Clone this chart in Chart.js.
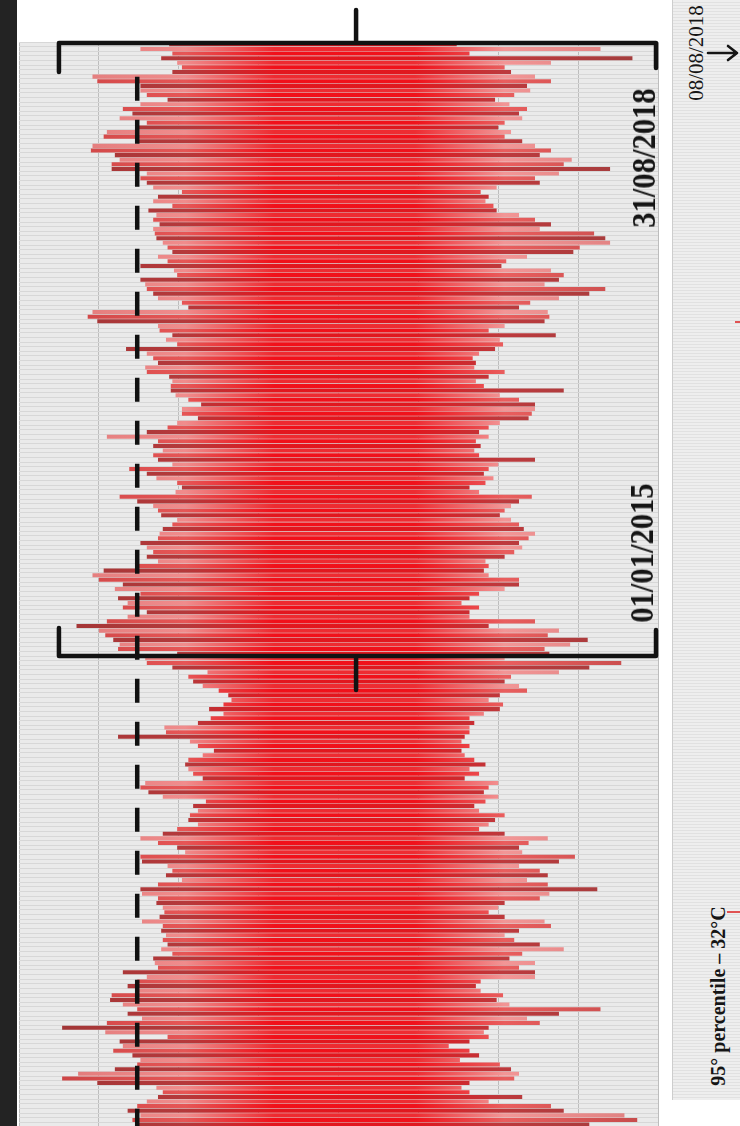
<!DOCTYPE html>
<html lang="en">
<head>
<meta charset="UTF-8">
<title>Daily temperature range 2015-2018</title>
<script src="https://cdn.jsdelivr.net/npm/chart.js"></script>
<style>
  html, body { margin: 0; padding: 0; background: #fff; overflow: hidden; }
  body { width: 740px; height: 1126px; position: relative; }
  #wrap { position: absolute; left: 0; top: 0; width: 740px; height: 1150px; }
  .strip { position: absolute; left: 0; top: 0; width: 17px; height: 1126px; background: #232323; }
  .panel {
    position: absolute; left: 672px; top: 0; width: 68px; height: 1100px;
    background: repeating-linear-gradient(to bottom, #eeeeee 0 2px, #e1e1e1 2px 3px);
    border-left: 1px solid #cdcdcd;
  }
  .rot {
    position: absolute; white-space: nowrap; line-height: 1; color: #151515;
    font-family: "Liberation Serif", "DejaVu Serif", serif;
  }
  .mark { position: absolute; background: #e05252; }
  .arrow { position: absolute; left: 706px; top: 44px; }
</style>
</head>
<body>
<div class="strip"></div>
<div id="wrap"><canvas id="chart"></canvas></div>
<div class="panel"></div>

<div class="rot" style="left:644px; top:158px; font-size:34px; font-weight:bold; transform:translate(-50%,-50%) rotate(-90deg) scaleX(0.9);">31/08/2018</div>
<div class="rot" style="left:642px; top:553px; font-size:34px; font-weight:bold; transform:translate(-50%,-50%) rotate(-90deg) scaleX(0.9);">01/01/2015</div>
<div class="rot" style="left:696px; top:53px; font-size:21px; transform:translate(-50%,-50%) rotate(-90deg);">08/08/2018</div>
<svg class="arrow" width="34" height="18" viewBox="0 0 34 18">
  <path d="M2 9 H30 M22 2 L31 9 L22 16" fill="none" stroke="#151515" stroke-width="2.6" stroke-linecap="round" stroke-linejoin="round"/>
</svg>
<div class="rot" style="left:718px; top:996px; font-size:20px; font-weight:bold; transform:translate(-50%,-50%) rotate(-90deg);">95° percentile – 32°C</div>
<div class="mark" style="left:727px; top:911px; width:13px; height:2px;"></div>
<div class="mark" style="left:735px; top:321px; width:5px; height:2px;"></div>

<script>
// rows run newest (31/08/2018, top) to oldest (bottom), daily max / min temperature in °C
const tMax = [
  30.6, 32.4, 30.4, 31.1, 30.1, 29.8, 30.4, 35.4, 35.1, 32.4,
  32.4, 32.0, 30.7, 32.4, 33.5, 32.9, 33.7, 32.0, 32.6, 34.5,
  34.7, 32.6, 35.4, 35.5, 34.0, 33.7, 34.2, 34.2, 32.0, 32.4,
  32.0, 31.6, 29.8, 31.3, 31.6, 30.4, 31.9, 31.4, 31.6, 31.2,
  31.6, 31.5, 31.4, 31.0, 30.7, 30.4, 31.3, 30.7, 32.4, 30.3,
  30.1, 32.4, 32.1, 32.0, 31.6, 31.3, 29.8, 29.4, 35.4, 35.7,
  35.1, 31.3, 31.2, 30.4, 30.8, 30.1, 33.3, 32.0, 31.6, 31.3,
  32.1, 32.0, 30.6, 30.4, 30.5, 30.5, 30.2, 29.4, 28.6, 29.8,
  29.8, 28.8, 30.1, 30.7, 32.0, 34.5, 31.3, 31.6, 31.0, 31.6,
  31.3, 30.4, 33.1, 32.0, 31.4, 30.1, 29.8, 30.2, 33.7, 32.6,
  31.6, 31.3, 31.1, 30.1, 30.4, 31.0, 31.2, 31.3, 32.4, 32.0,
  31.6, 32.0, 31.3, 32.6, 34.7, 35.4, 35.0, 33.5, 34.0, 32.4,
  33.8, 33.2, 33.5, 32.0, 33.2, 34.5, 36.4, 35.0, 34.6, 34.1,
  33.7, 33.8, 30.1, 32.1, 32.0, 30.4, 28.2, 29.4, 29.1, 28.5,
  27.5, 26.9, 26.7, 27.2, 28.1, 27.2, 28.0, 28.8, 30.9, 30.8,
  33.8, 29.3, 28.8, 27.8, 28.5, 29.4, 29.6, 29.4, 29.1, 28.5,
  32.1, 32.4, 31.9, 31.0, 28.3, 29.1, 28.8, 29.3, 29.4, 28.8,
  30.1, 31.0, 32.4, 31.3, 30.1, 29.6, 32.4, 32.3, 30.7, 30.4,
  30.8, 29.8, 31.3, 32.4, 32.3, 31.3, 31.4, 31.0, 30.9, 31.2,
  32.3, 31.0, 31.1, 30.8, 31.0, 30.7, 31.1, 30.4, 31.6, 31.5,
  31.3, 33.5, 32.0, 32.6, 33.2, 32.6, 34.2, 34.3, 33.5, 32.6,
  33.2, 32.3, 34.5, 37.3, 34.6, 30.7, 33.7, 33.5, 34.1, 32.9,
  32.4, 32.6, 34.0, 36.3, 37.3, 35.1, 31.4, 31.0, 31.3, 32.0,
  32.6, 33.2, 32.4, 32.9, 32.6, 32.0, 31.5, 32.2, 31.8, 32.5
];
const tMin = [
  12.6, 3.6, 11.8, 1.6, 6.7, 9.6, 9.2, 7.7, 6.7, 8.2,
  8.0, 9.0, 10.2, 9.3, 8.2, 8.7, 8.5, 9.6, 10.0, 9.2,
  9.6, 8.5, 7.7, 6.7, 7.4, 5.4, 5.9, 3.0, 6.2, 7.7,
  7.4, 10.1, 11.1, 10.6, 10.8, 10.3, 10.1, 8.7, 7.7, 6.7,
  7.4, 4.0, 3.3, 3.0, 4.9, 5.3, 8.2, 9.5, 9.8, 6.7,
  5.9, 6.2, 7.1, 3.3, 4.3, 6.2, 8.0, 8.7, 6.9, 6.8,
  7.1, 9.6, 10.6, 6.4, 9.9, 9.7, 10.2, 11.2, 11.6, 11.4,
  11.5, 9.6, 10.6, 11.4, 10.9, 5.9, 9.9, 8.7, 7.7, 7.7,
  7.9, 8.1, 9.9, 10.6, 11.2, 10.6, 11.4, 11.1, 11.5, 11.2,
  7.7, 10.0, 10.6, 10.9, 10.3, 10.8, 11.8, 11.2, 7.9, 8.7,
  9.2, 9.6, 9.9, 9.2, 8.7, 8.4, 7.7, 8.1, 8.7, 8.5,
  9.0, 9.6, 10.8, 10.6, 10.9, 10.6, 8.7, 8.7, 9.6, 11.2,
  11.8, 12.3, 11.2, 11.8, 11.8, 7.7, 10.6, 6.2, 6.9, 4.4,
  5.5, 7.1, 6.8, 9.6, 2.3, 4.3, 6.2, 9.2, 9.6, 8.7,
  8.2, 9.9, 10.6, 9.7, 9.9, 10.9, 11.8, 11.5, 11.8, 11.8,
  12.1, 12.3, 11.8, 12.3, 12.1, 11.5, 10.8, 11.8, 11.2, 12.1,
  10.0, 10.6, 10.9, 10.0, 10.8, 11.5, 11.2, 9.6, 10.2, 10.6,
  11.2, 9.6, 6.9, 8.1, 8.7, 8.5, 5.2, 6.2, 8.7, 7.4,
  6.9, 8.2, 6.9, 3.8, 6.8, 7.4, 9.6, 10.0, 10.6, 9.6,
  7.1, 6.7, 8.7, 9.6, 9.0, 7.4, 5.9, 8.5, 9.3, 7.7,
  8.7, 7.7, 7.7, 11.1, 11.4, 11.1, 9.7, 10.1, 9.3, 3.6,
  6.2, 8.2, 7.4, 10.6, 10.9, 10.6, 11.8, 13.1, 11.8, 11.2,
  12.4, 9.9, 9.2, 8.7, 9.0, 11.8, 12.3, 11.8, 8.5, 10.6,
  6.7, 5.9, 2.1, 1.3, 4.3, 6.2, 7.0, 5.5, 8.0, 6.5
];
const rowLabels = tMax.map((_, i) => 'day ' + (i + 1));
const percentile95 = 32.6;   // dashed threshold line
const thresholdFromRow = 7;  // dashed line starts below the top bracket
const windowRows = 133;      // rows between 31/08/2018 and 01/01/2015

// colour stops across the plot width (hot side left, cold side right)
const stops = [0, 0.26, 0.4, 0.62, 0.76, 1];
const shades = [
  ['#9c3535', '#b5393b', '#e3161e', '#e0181f', '#bd3a3d', '#9e3e3e'],
  ['#dc7474', '#f08c8c', '#ee2a30', '#ee2c32', '#f29696', '#dc7c7c'],
  ['#c53f40', '#e65656', '#f1101a', '#f0121b', '#e95e5e', '#c24a4a']
];

function barFill(ctx) {
  const chart = ctx.chart;
  const a = chart.chartArea;
  if (!a) return '#e02020';
  const s = shades[ctx.dataIndex % 3];
  const g = chart.ctx.createLinearGradient(a.left, 0, a.right, 0);
  stops.forEach((p, k) => g.addColorStop(p, s[k]));
  return g;
}

const plotBackground = {
  id: 'plotBackground',
  beforeDraw(chart) {
    const { ctx, chartArea: a } = chart;
    ctx.save();
    ctx.fillStyle = '#eaeaea';
    ctx.fillRect(a.left, a.top, a.right - a.left, a.bottom - a.top);
    ctx.restore();
  }
};

const brackets = {
  id: 'brackets',
  afterDraw(chart) {
    const { ctx, chartArea: a, scales: { x, y } } = chart;
    const left = x.getPixelForValue(37.5);
    const right = a.right - 2;
    const mid = x.getPixelForValue(18.9);
    const top = a.top + 1;
    const cut = (y.getPixelForValue(windowRows - 1) + y.getPixelForValue(windowRows)) / 2;
    ctx.save();
    ctx.strokeStyle = '#121212';
    ctx.lineWidth = 4.5;
    ctx.lineJoin = 'round';
    ctx.lineCap = 'round';
    ctx.beginPath();
    ctx.moveTo(left, top + 29); ctx.lineTo(left, top); ctx.lineTo(right, top); ctx.lineTo(right, top + 25);
    ctx.moveTo(mid, top); ctx.lineTo(mid, top - 33);
    ctx.moveTo(left, cut - 28); ctx.lineTo(left, cut); ctx.lineTo(right, cut); ctx.lineTo(right, cut - 26);
    ctx.moveTo(mid, cut); ctx.lineTo(mid, cut + 34);
    ctx.stroke();
    ctx.restore();
  }
};

new Chart(document.getElementById('chart'), {
  type: 'bar',
  data: {
    labels: rowLabels,
    datasets: [
      {
        type: 'line',
        label: '95° percentile',
        data: rowLabels.map((_, i) => (i < thresholdFromRow ? null : percentile95)),
        borderColor: '#111',
        borderWidth: 4.5,
        borderDash: [24, 19],
        pointRadius: 0,
        order: 0
      },
      {
        label: 'daily range',
        data: tMin.map((v, i) => [v, tMax[i]]),
        backgroundColor: barFill,
        borderWidth: 0,
        barPercentage: 0.88,
        categoryPercentage: 1,
        order: 1
      }
    ]
  },
  options: {
    indexAxis: 'y',
    responsive: true,
    maintainAspectRatio: false,
    animation: false,
    layout: { padding: { left: 19, right: 82, top: 42, bottom: 0 } },
    plugins: { legend: { display: false }, tooltip: { enabled: false } },
    scales: {
      x: {
        min: 0, max: 40, reverse: true,
        ticks: { display: false, stepSize: 5 },
        grid: { color: '#bdbdbd', drawTicks: false },
        border: { display: false }
      },
      y: {
        ticks: { display: false },
        grid: { color: '#d7d7d7', drawTicks: false },
        border: { display: false }
      }
    }
  },
  plugins: [plotBackground, brackets]
});
</script>
</body>
</html>
